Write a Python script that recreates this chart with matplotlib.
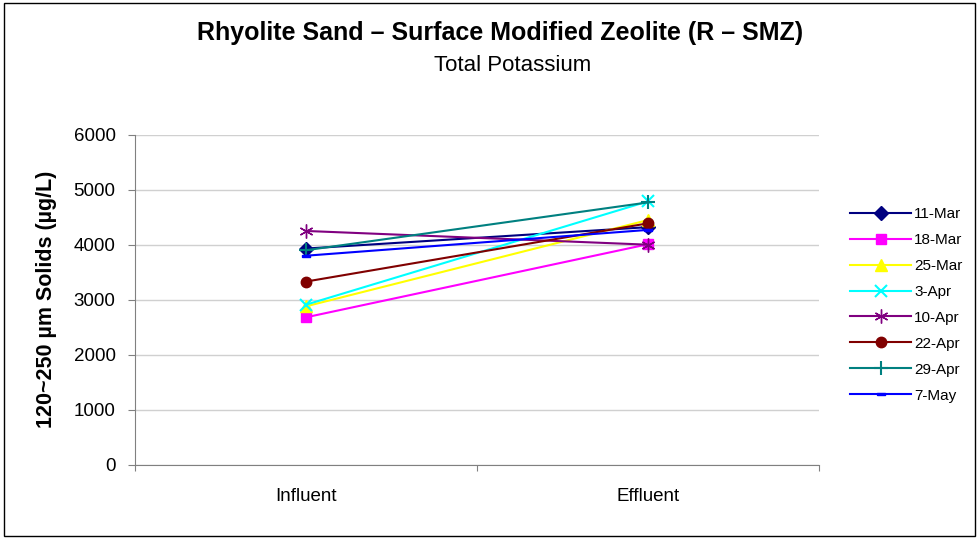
import matplotlib.pyplot as plt
from matplotlib.patches import Rectangle

plt.rcParams['font.family'] = ['Liberation Sans', 'DejaVu Sans']

# ----------------------------- Data -----------------------------
stages = ['Influent', 'Effluent']
dates = ['11-Mar', '18-Mar', '25-Mar', '3-Apr', '10-Apr', '22-Apr', '29-Apr', '7-May']
influent = [3930, 2680, 2880, 2910, 4250, 3330, 3900, 3800]
effluent = [4320, 4010, 4450, 4790, 4000, 4390, 4770, 4270]

colors = ['#000080', '#FF00FF', '#FFFF00', '#00FFFF', '#800080', '#800000', '#008080', '#0000FF']
dash_marker = [(-1, -0.35), (1, -0.35), (1, 0.35), (-1, 0.35), (-1, -0.35)]
markers = ['D', 's', '^', 'x', (6, 2, 0), 'o', '+', dash_marker]
msizes = [7, 7, 8, 8, 10, 7.5, 10, 6]
# ----------------------------------------------------------------

fig = plt.figure(figsize=(9.79, 5.39), dpi=100)
fig.patches.append(Rectangle((0.004, 0.006), 0.992, 0.988, transform=fig.transFigure,
                             fill=False, edgecolor='black', linewidth=1))

ax = fig.add_axes([0.138, 0.138, 0.699, 0.612])
xpos = [0.5, 1.5]
for i, d in enumerate(dates):
    ax.plot(xpos, [influent[i], effluent[i]], color=colors[i], marker=markers[i],
            markersize=msizes[i], markeredgewidth=1.5 if markers[i] in ('x', '+') else 1,
            linewidth=1.5, label=d)

ax.set_xlim(0, 2)
ax.set_ylim(0, 6000)
ax.set_yticks(range(0, 6001, 1000))
ax.set_xticks([0, 1, 2])
ax.set_xticklabels([])
ax.set_xticks(xpos, minor=True)
ax.set_xticklabels(stages, minor=True)
ax.tick_params(axis='x', which='minor', length=0, pad=17, labelsize=13.5)
ax.tick_params(axis='x', which='major', length=4, color='#808080')
ax.tick_params(axis='y', length=5, color='#808080', labelsize=13.5, pad=9)
ax.grid(axis='y', color='#d0d0d0', linewidth=1)
ax.set_axisbelow(True)
for s in ['top', 'right']:
    ax.spines[s].set_visible(False)
for s in ['left', 'bottom']:
    ax.spines[s].set_color('#808080')

ax.set_ylabel('120~250 µm Solids (µg/L)', fontsize=15.5, fontweight='bold', labelpad=12)

fig.text(0.511, 0.938, 'Rhyolite Sand – Surface Modified Zeolite (R – SMZ)',
         ha='center', va='center', fontsize=18, fontweight='bold')
fig.text(0.524, 0.878, 'Total Potassium', ha='center', va='center', fontsize=16)

fig.legend(loc='upper left', bbox_to_anchor=(0.862, 0.627), frameon=False,
           fontsize=11, handlelength=4.0, labelspacing=0.78, handletextpad=0.2,
           borderaxespad=0)

fig.savefig('out.png', dpi=100)
